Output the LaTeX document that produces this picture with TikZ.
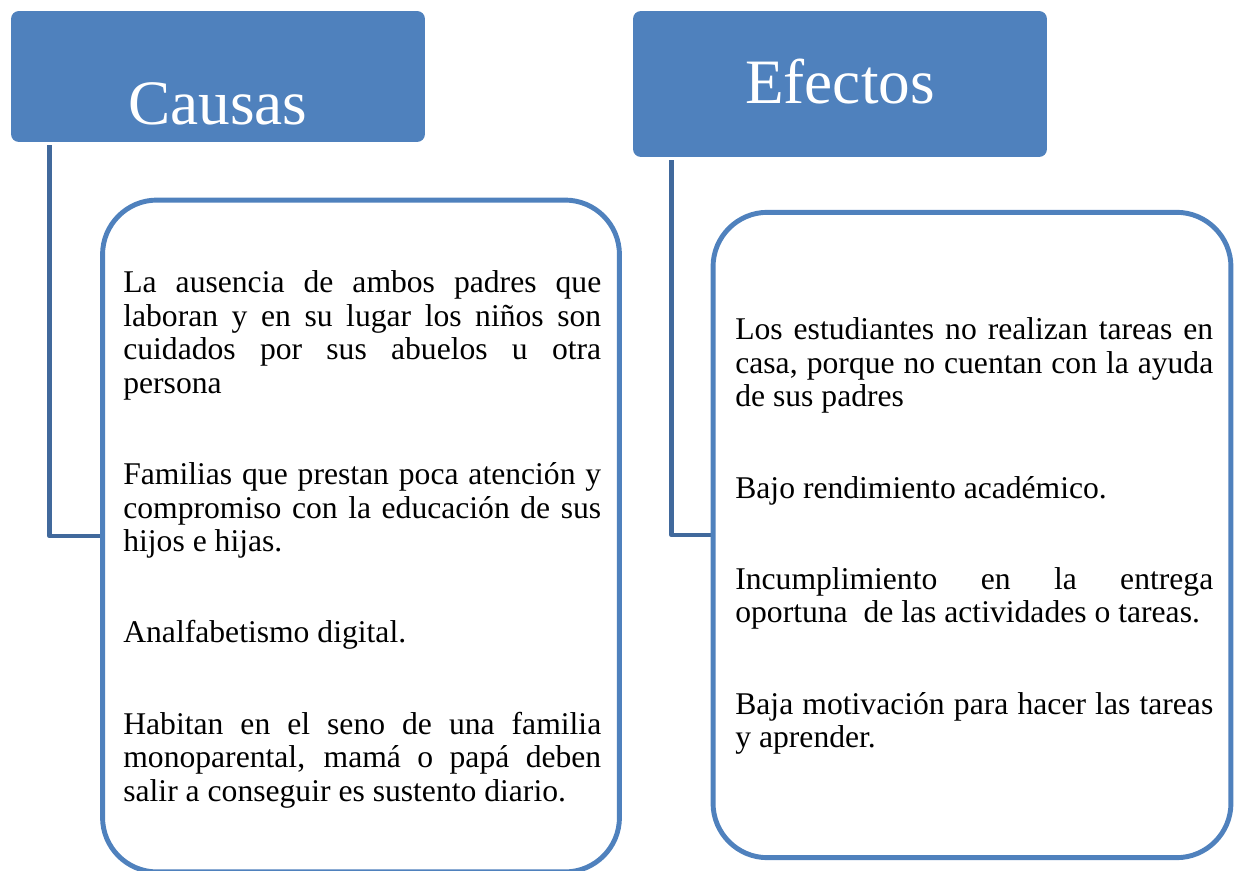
\documentclass[tikz,border=0pt]{standalone}
\usepackage{fontspec}
\setmainfont{Liberation Serif}
\usepackage{tikz}
\usetikzlibrary{calc,positioning,backgrounds}
\definecolor{azul}{HTML}{4F81BD}
\definecolor{azuloscuro}{HTML}{41699C}
\tolerance=9999
\hyphenpenalty=10000
\tikzstyle{titulo}   = [rectangle, rounded corners=4.5pt, fill=azul, text=white, font=\fontsize{36}{40}\selectfont, minimum width=8.28cm, text depth=0pt]
\tikzstyle{caja}     = [rectangle, rounded corners=31pt, draw=azul, line width=2.8pt, fill=white]
\tikzstyle{conector} = [line width=2.8pt, draw=azuloscuro, line join=round]

\begin{document}
\begin{tikzpicture}[x=0.02cm, y=-0.02cm,
			texto/.style={anchor=north west, inner sep=0pt, text width=9.56cm, align=justify,
					font=\fontsize{18}{19.1}\selectfont},
		]
		\useasboundingbox (0,0) rectangle (1235,871);

		% titulos
		\node[titulo, minimum height=2.62cm, text height=55pt] (causas) at (218,76.5) {Causas};
		\node[titulo, minimum height=2.92cm, text height=22pt] (efectos) at (840,84) {Efectos};

		% cajas
		\node[caja, minimum width=10.34cm, minimum height=13.44cm] (causasbox) at (361,536) {};
		\node[caja, minimum width=10.36cm, minimum height=12.91cm] (efectosbox) at (972,535) {};

		\begin{scope}[on background layer]
			\draw[conector] ($(causas.south west)+(39,3)$) |- (causasbox.west);
			\draw[conector] ($(efectos.south west)+(39,3)$) |- (efectosbox.west);
		\end{scope}

		\node[texto] (causastxt) at (123,269) {\strut La ausencia de ambos padres que\linebreak
			laboran y en su lugar los niños son\linebreak
			cuidados por sus abuelos u otra\linebreak
			persona\\[32.8pt]
			Familias que prestan poca atención y\linebreak
			compromiso con la educación de sus\linebreak
			hijos e hijas.\\[32.8pt]
			Analfabetismo digital.\\[32.8pt]
			Habitan en el seno de una familia\linebreak
			monoparental, mamá o papá deben\linebreak
			salir a conseguir es sustento diario.};

		\node[texto] (efectostxt) at (735,316) {\strut Los estudiantes no realizan tareas en\linebreak
			casa, porque no cuentan con la ayuda\linebreak
			de sus padres\\[32.8pt]
			Bajo rendimiento académico.\\[32.8pt]
			Incumplimiento en la entrega\linebreak
			oportuna\ \ de las actividades o tareas.\\[32.8pt]
			Baja motivación para hacer las tareas\linebreak
			y aprender.};
	\end{tikzpicture}
\end{document}
